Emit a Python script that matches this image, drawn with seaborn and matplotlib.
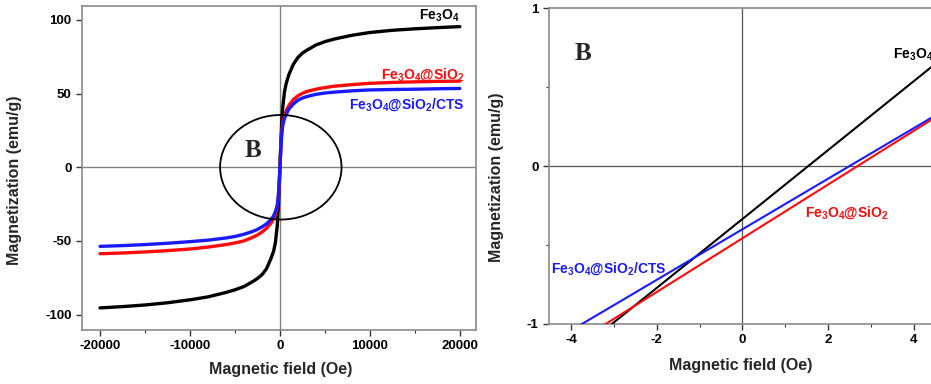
import numpy as np
import pandas as pd
import matplotlib
matplotlib.use("Agg")
import matplotlib.pyplot as plt
from matplotlib.patches import Ellipse
from matplotlib.ticker import MultipleLocator, FixedLocator
import seaborn as sns

# Full hysteresis loop
field = [-20000, -17500, -15000, -12500, -10000, -8000, -6000, -5000, -4000, -3000, -2500,
         -2000, -1500, -1000, -700, -500, -300, -200, -100, 0, 100, 200, 300, 500, 700,
         1000, 1500, 2000, 2500, 3000, 4000, 5000, 6000, 8000, 10000, 12500, 15000, 17500,
         20000]
m_fe3o4 = [-95.5, -94.6, -93.5, -92, -90, -88, -85, -83.2, -81, -77.5, -75.5, -73, -69,
           -62, -57, -51, -40, -30, -16, -0.3, 16, 30, 40, 51, 57, 63, 70, 74.5, 77.5,
           79.5, 83, 85.3, 87, 89.6, 91.5, 93, 94, 94.8, 95.5]
m_sio2 = [-58.7, -58.2, -57.5, -56.6, -55.5, -54.2, -52.5, -51.4, -50, -47.5, -46, -44,
          -41.5, -38, -35, -32, -27, -22, -14, -0.5, 14, 24, 30, 35, 38.5, 42, 46, 48.5,
          50.2, 51.5, 53, 54.1, 55, 56.1, 57, 57.6, 58, 58.3, 58.5]
m_cts = [-53.7, -53.2, -52.5, -51.6, -50.5, -49.5, -48, -47, -45.5, -43.5, -42.2, -40.5,
         -38.5, -35.5, -33, -30, -26, -21, -13, -0.4, 13, 22, 28, 33, 36, 39.5, 43, 45.5,
         47, 48, 49.5, 50.4, 51, 51.9, 52.5, 52.8, 53, 53.3, 53.5]

# Zoomed region near origin (B)
zoom_field = [-4.6, 4.6]
zoom_fe3o4 = [-1.338, 0.668]
zoom_sio2 = [-1.239, 0.325]
zoom_cts = [-1.136, 0.336]

names = ["Fe3O4", "Fe3O4@SiO2", "Fe3O4@SiO2/CTS"]
colors = {"Fe3O4": "#000000", "Fe3O4@SiO2": "#ff0a0a", "Fe3O4@SiO2/CTS": "#1a1aff"}

df_full = pd.concat([
    pd.DataFrame({"H": field, "M": m_fe3o4, "sample": names[0]}),
    pd.DataFrame({"H": field, "M": m_sio2, "sample": names[1]}),
    pd.DataFrame({"H": field, "M": m_cts, "sample": names[2]}),
])
df_zoom = pd.concat([
    pd.DataFrame({"H": zoom_field, "M": zoom_fe3o4, "sample": names[0]}),
    pd.DataFrame({"H": zoom_field, "M": zoom_sio2, "sample": names[1]}),
    pd.DataFrame({"H": zoom_field, "M": zoom_cts, "sample": names[2]}),
])

sns.set_theme(style="white")
plt.rcParams["font.family"] = ["Liberation Sans", "DejaVu Sans"]
plt.rcParams["font.weight"] = "bold"
plt.rcParams["mathtext.fontset"] = "custom"
plt.rcParams["mathtext.rm"] = "Liberation Sans:bold"
plt.rcParams["mathtext.it"] = "Liberation Sans:bold"
plt.rcParams["mathtext.bf"] = "Liberation Sans:bold"
plt.rcParams["mathtext.default"] = "rm"
plt.rcParams["axes.unicode_minus"] = False

fig = plt.figure(figsize=(9.31, 3.84), dpi=100)
ax1 = fig.add_axes([0.0881, 0.1406, 0.4232, 0.8438])
ax2 = fig.add_axes([0.5897, 0.1563, 0.4237, 0.8220])

spine_col = "#8a8a8a"
for ax in (ax1, ax2):
    for s in ax.spines.values():
        s.set_color(spine_col)
        s.set_linewidth(1.2)
    ax.tick_params(which="both", direction="out", colors="#333333", labelcolor="black",
                   labelsize=9.5, left=True, bottom=True, top=False, right=False)
    ax.tick_params(which="major", length=4, width=1)
    ax.tick_params(which="minor", length=2.5, width=0.8)

# ---- left panel ----
ax1.axhline(0, color="#808080", lw=1.0, zorder=1)
ax1.axvline(0, color="#808080", lw=1.0, zorder=1)
sns.lineplot(data=df_full, x="H", y="M", hue="sample", palette=colors, sort=False,
             estimator=None, lw=2.4, legend=False, ax=ax1, zorder=3)
ax1.add_patch(Ellipse((100, 0), 13500, 71, fill=False, ec="black", lw=1.3, zorder=4))
ax1.text(-3890, 6.8, "B", family="Liberation Serif", fontsize=18, fontweight="bold",
         ha="left", va="baseline")
ax1.text(20000, 100, "Fe$_3$O$_4$", color=colors[names[0]], fontsize=10, ha="right", va="baseline")
ax1.text(20550, 60.5, "Fe$_3$O$_4$@SiO$_2$", color=colors[names[1]], fontsize=10,
         ha="right", va="baseline")
ax1.text(20550, 40, "Fe$_3$O$_4$@SiO$_2$/CTS", color=colors[names[2]], fontsize=10,
         ha="right", va="baseline")
ax1.set_xlim(-22000, 21800)
ax1.set_ylim(-110.5, 109.5)
ax1.xaxis.set_major_locator(FixedLocator([-20000, -10000, 0, 10000, 20000]))
ax1.xaxis.set_minor_locator(MultipleLocator(5000))
ax1.yaxis.set_major_locator(FixedLocator([-100, -50, 0, 50, 100]))
ax1.set_xlabel("Magnetic field (Oe)", fontsize=11.5, fontweight="bold")
ax1.set_ylabel("Magnetization (emu/g)", fontsize=11.5, fontweight="bold")
ax1.xaxis.set_label_coords(0.503, -0.099)
ax1.yaxis.set_label_coords(-0.152, 0.463)

# ---- right panel ----
ax2.axhline(0, color="#555555", lw=0.9, zorder=1)
ax2.axvline(0, color="#555555", lw=0.9, zorder=1)
sns.lineplot(data=df_zoom, x="H", y="M", hue="sample", palette=colors, sort=False,
             estimator=None, lw=1.5, legend=False, ax=ax2, zorder=3)
ax2.text(-3.91, 0.675, "B", family="Liberation Serif", fontsize=18, fontweight="bold",
         ha="left", va="baseline")
ax2.text(3.52, 0.68, "Fe$_3$O$_4$", color=colors[names[0]], fontsize=10, ha="left", va="baseline")
ax2.text(1.47, -0.32, "Fe$_3$O$_4$@SiO$_2$", color=colors[names[1]], fontsize=10,
         ha="left", va="baseline")
ax2.text(-4.47, -0.677, "Fe$_3$O$_4$@SiO$_2$/CTS", color=colors[names[2]], fontsize=10,
         ha="left", va="baseline")
ax2.set_xlim(-4.52, 4.7)
ax2.set_ylim(-1, 1)
ax2.xaxis.set_major_locator(FixedLocator([-4, -2, 0, 2, 4]))
ax2.xaxis.set_minor_locator(FixedLocator([-3, -1, 1, 3]))
ax2.yaxis.set_major_locator(FixedLocator([-1, 0, 1]))
ax2.yaxis.set_minor_locator(FixedLocator([-0.5, 0.5]))
ax2.set_xlabel("Magnetic field (Oe)", fontsize=11.5, fontweight="bold")
ax2.set_ylabel("Magnetization (emu/g)", fontsize=11.5, fontweight="bold")
ax2.xaxis.set_label_coords(0.487, -0.108)
ax2.yaxis.set_label_coords(-0.114, 0.465)

for ax in (ax1, ax2):
    for lab in ax.get_xticklabels() + ax.get_yticklabels():
        lab.set_fontweight("bold")

fig.savefig("out.png", dpi=100)
